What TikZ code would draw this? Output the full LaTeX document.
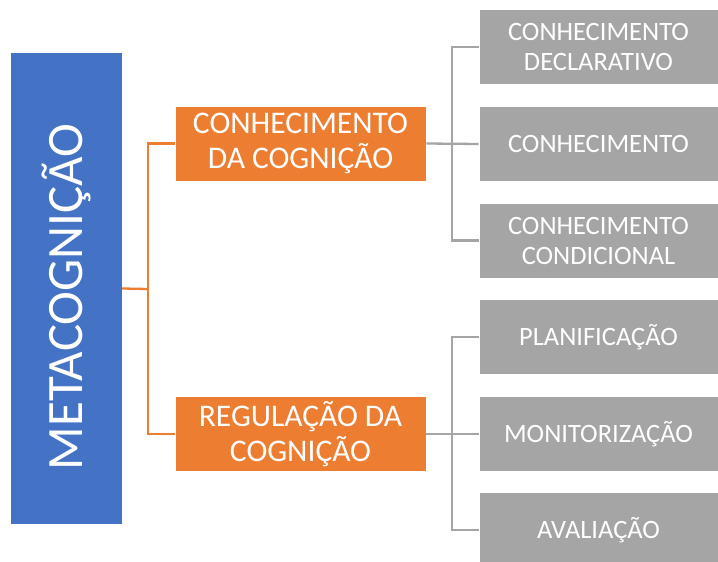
\documentclass[tikz,border=0pt]{standalone}
\usepackage{fontspec}
\setmainfont{Carlito}
\definecolor{mblue}{HTML}{4472C4}
\definecolor{morange}{HTML}{ED7D31}
\definecolor{mgray}{HTML}{A5A5A5}
\begin{document}
\begin{tikzpicture}[x=1pt,y=-1pt,
  rootbox/.style={fill=mblue,draw=none,minimum width=111pt,minimum height=471pt,inner sep=0pt},
  midbox/.style={fill=morange,draw=white,line width=0.6pt,minimum width=251pt,minimum height=75pt,inner sep=0pt,text=white,align=center,font=\fontsize{31.5}{34.5}\selectfont},
  leafbox/.style={fill=mgray,draw=white,line width=0.6pt,minimum width=239pt,minimum height=75pt,inner sep=0pt,text=white,align=center,font=\fontsize{26.5}{30}\selectfont},
  oline/.style={draw=morange,line width=2.3pt},
  gline/.style={draw=mgray,line width=2.3pt}]
\useasboundingbox (0,0) rectangle (718,562);
\node[rootbox] (root) at (66.5,288.5) {};
\node[text=white,rotate=90,anchor=base,inner sep=0pt,font=\fontsize{51}{51}\selectfont] (roottext) at (82,297) {METACOGNIÇÃO};
\node[midbox] (o1) at (300.5,143.5) {CONHECIMENTO\\DA COGNIÇÃO};
\node[midbox] (o2) at (300.5,434) {REGULAÇÃO DA\\COGNIÇÃO};
\node[leafbox] (g1) at (598.5,47) {CONHECIMENTO\\DECLARATIVO};
\node[leafbox] (g2) at (598.5,144) {CONHECIMENTO};
\node[leafbox] (g3) at (598.5,240.5) {CONHECIMENTO\\CONDICIONAL};
\node[leafbox] (g4) at (598.5,337) {PLANIFICAÇÃO};
\node[leafbox] (g5) at (598.5,434) {MONITORIZAÇÃO};
\node[leafbox] (g6) at (598.5,530) {AVALIAÇÃO};
\coordinate (oj) at (148,289);
\coordinate (gj1) at (452,144);
\coordinate (gj2) at (452,434);
\draw[oline] (root.east) -- (oj);
\draw[oline] (o1.west) -| (oj) |- (o2.west);
\draw[gline] (o1.east) -- (g2.west);
\draw[gline] (g1.west) -| (gj1) |- (g3.west);
\draw[gline] (o2.east) -- (g5.west);
\draw[gline] (g4.west) -| (gj2) |- (g6.west);
\end{tikzpicture}
\end{document}
